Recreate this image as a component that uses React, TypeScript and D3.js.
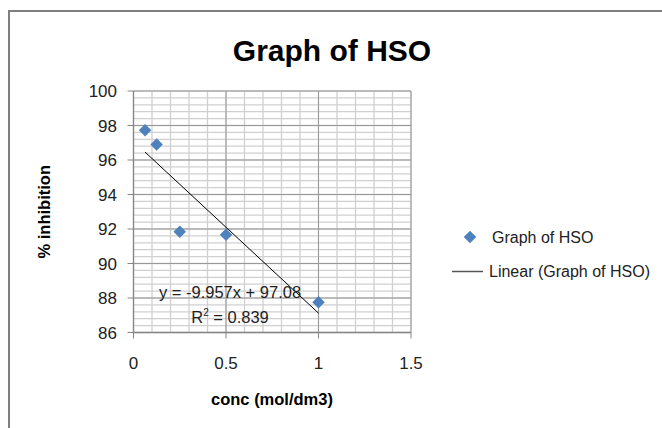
import * as d3 from 'd3';

// concentration (mol/dm3) and % inhibition
const concValues = [0.0625, 0.125, 0.25, 0.5, 1];
const inhibitionValues = [97.72, 96.9, 91.84, 91.67, 87.76];

// Excel linear trendline as printed on the chart
const trendSlope = -9.957;
const trendIntercept = 97.08;
const trendLabel = 'y = -9.957x + 97.08';
const r2Label = '0.839';

const xTickValues = [0, 0.5, 1, 1.5];
const yTickValues = [86, 88, 90, 92, 94, 96, 98, 100];

const title = 'Graph of HSO';
const xTitle = 'conc (mol/dm3)';
const yTitle = '% inhibition';
const seriesName = 'Graph of HSO';
const trendName = 'Linear (Graph of HSO)';

const FONT = "'Liberation Sans', Arial, sans-serif";
const BLUE = '#4f81bd';

export default function App() {
	const width = 662;
	const height = 428;
	const plot = { left: 133.5, right: 411, top: 91, bottom: 332.5 };

	const x = d3.scaleLinear().domain([0, 1.5]).range([plot.left, plot.right]);
	const y = d3.scaleLinear().domain([86, 100]).range([plot.bottom, plot.top]);

	// minor grid: 0.1 on x, 0.4 on y
	const xMinor = d3.range(0, 15 + 1).map((i) => i / 10);
	const yMinor = d3.range(0, 35 + 1).map((i) => 86 + i * 0.4);

	const diamond = d3.symbol().type(d3.symbolDiamond2).size(100)();

	const trendLine = d3
		.line<number>()
		.x((d) => x(d))
		.y((d) => y(trendSlope * d + trendIntercept));
	const trendXs = [d3.min(concValues) as number, d3.max(concValues) as number];

	return (
		<svg
			width={width}
			height={height}
			style={{ position: 'absolute', left: 0, top: 0, background: '#fff' }}
		>
			{/* chart frame, cut off at right and bottom */}
			<rect x={9} y={11} width={700} height={500} fill="#fff" stroke="#7f7f7f" strokeWidth={2} />

			<text x={332} y={61} textAnchor="middle" fontFamily={FONT} fontWeight="bold" fontSize={30} fill="#000">
				{title}
			</text>

			{/* minor gridlines */}
			{xMinor.map((v) => (
				<line key={'xm' + v} x1={x(v)} x2={x(v)} y1={plot.top} y2={plot.bottom} stroke="#d0d0d0" strokeWidth={1.3} />
			))}
			{yMinor.map((v) => (
				<line key={'ym' + v} x1={plot.left} x2={plot.right} y1={y(v)} y2={y(v)} stroke="#d0d0d0" strokeWidth={1.3} />
			))}
			{/* major gridlines */}
			{xTickValues.map((v) => (
				<line key={'xg' + v} x1={x(v)} x2={x(v)} y1={plot.top} y2={plot.bottom} stroke="#999" strokeWidth={1} />
			))}
			{yTickValues.map((v) => (
				<line key={'yg' + v} x1={plot.left} x2={plot.right} y1={y(v)} y2={y(v)} stroke="#999" strokeWidth={1} />
			))}

			{/* axes */}
			<line x1={plot.left} x2={plot.left} y1={plot.top} y2={plot.bottom} stroke="#868686" strokeWidth={1.3} />
			<line x1={plot.left} x2={plot.right} y1={plot.bottom} y2={plot.bottom} stroke="#868686" strokeWidth={1.3} />
			{yTickValues.map((v) => (
				<g key={'yt' + v}>
					<line x1={plot.left - 6} x2={plot.left} y1={y(v)} y2={y(v)} stroke="#868686" />
					<text x={117} y={y(v)} dy="0.36em" textAnchor="end" fontFamily={FONT} fontSize={17} fill="#222">
						{v}
					</text>
				</g>
			))}
			{xTickValues.map((v) => (
				<g key={'xt' + v}>
					<line x1={x(v)} x2={x(v)} y1={plot.bottom} y2={plot.bottom + 6} stroke="#868686" />
					<text x={x(v)} y={369} textAnchor="middle" fontFamily={FONT} fontSize={17} fill="#222">
						{v}
					</text>
				</g>
			))}

			<text
				transform={`translate(50, ${(plot.top + plot.bottom) / 2}) rotate(-90)`}
				textAnchor="middle"
				fontFamily={FONT}
				fontWeight="bold"
				fontSize={16.5}
				fill="#000"
			>
				{yTitle}
			</text>
			<text x={272} y={405} textAnchor="middle" fontFamily={FONT} fontWeight="bold" fontSize={16.5} fill="#000">
				{xTitle}
			</text>

			{/* data points */}
			{concValues.map((c, i) => (
				<path key={'p' + i} d={diamond as string} transform={`translate(${x(c)},${y(inhibitionValues[i])})`} fill={BLUE} />
			))}

			{/* trendline */}
			<path d={trendLine(trendXs) as string} fill="none" stroke="#000" strokeWidth={1} />
			<text x={230} y={298} textAnchor="middle" fontFamily={FONT} fontSize={16.5} fill="#222">
				{trendLabel}
			</text>
			<text x={230} y={323} textAnchor="middle" fontFamily={FONT} fontSize={16.5} fill="#222">
				R
				<tspan fontSize={10} dy={-7}>
					2
				</tspan>
				<tspan dy={7}>{' = ' + r2Label}</tspan>
			</text>

			{/* legend */}
			<path d={diamond as string} transform="translate(470,237)" fill={BLUE} />
			<text x={492} y={242.5} fontFamily={FONT} fontSize={16} fill="#222">
				{seriesName}
			</text>
			<line x1={452} x2={483} y1={271.5} y2={271.5} stroke="#555" strokeWidth={1.5} />
			<text x={489} y={277} fontFamily={FONT} fontSize={16} fill="#222">
				{trendName}
			</text>
		</svg>
	);
}
